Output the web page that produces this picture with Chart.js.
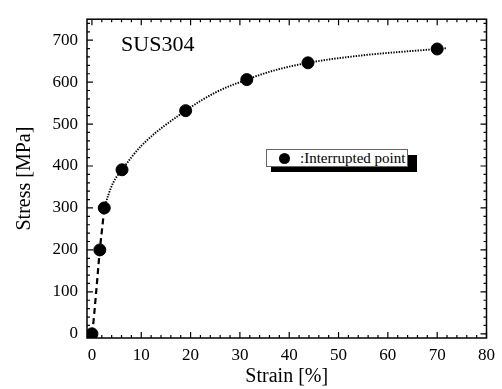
<!DOCTYPE html>
<html lang="en">
<head>
    <meta charset="UTF-8">
    <title>SUS304 Stress-Strain</title>
    <style>
        body {
            margin: 0;
            background: #fff;
            font-family: "Liberation Serif", serif;
        }
        .wrap {
            position: relative;
            width: 502px;
            height: 389px;
        }
        .legend-shadow {
            position: absolute;
            left: 271px;
            top: 155px;
            width: 146px;
            height: 17px;
            background: #000;
        }
        .legend-box {
            position: absolute;
            left: 266px;
            top: 149px;
            width: 140px;
            height: 16px;
            border: 1px solid #666;
            background: #fff;
            font-size: 15px;
            line-height: 16px;
            white-space: nowrap;
        }
        .legend-box .dot {
            position: absolute;
            left: 12px;
            top: 3px;
            width: 11px;
            height: 11px;
            border-radius: 50%;
            background: #000;
        }
        .legend-box span {
            position: absolute;
            left: 33px;
            top: 0;
        }
    </style>
    <script src="https://cdn.jsdelivr.net/npm/chart.js"></script>
</head>
<body>
    <div class="wrap">
        <canvas id="chart" width="502" height="389"></canvas>
        <div class="legend-shadow"></div>
        <div class="legend-box"><div class="dot"></div><span>:Interrupted point</span></div>
    </div>
    <script>
        // interrupted test points (strain %, stress MPa)
        const pointStrain = [0, 1.6, 2.5, 6.1, 19.0, 31.4, 43.8, 70.0];
        const pointStress = [0, 200, 300, 391, 532, 606, 646, 679];

        // fitted curve: dashed part, then dotted part
        const dashStrain = [0, 0.3, 0.9, 1.6, 2.2, 2.5];
        const dashStress = [0, 28, 105, 200, 265, 300];
        const dotStrain = [2.5, 3.3, 4.3, 6.1, 10, 19.0, 25, 31.4, 37, 43.8, 55, 70.0, 72];
        const dotStress = [300, 330, 360, 391, 448, 532, 575, 606, 628, 646, 664, 679, 681];

        const xTicks = [0, 10, 20, 30, 40, 50, 60, 70, 80];
        const yTicks = [0, 100, 200, 300, 400, 500, 600, 700];

        const toXY = (xs, ys) => xs.map((x, i) => ({ x: x, y: ys[i] }));

        // frame with inward ticks on all four sides
        const framePlugin = {
            id: 'frame',
            afterDraw(chart) {
                const ctx = chart.ctx;
                const a = chart.chartArea;
                const sx = chart.scales.x, sy = chart.scales.y;
                ctx.save();
                ctx.strokeStyle = '#000';
                ctx.lineWidth = 1.5;
                ctx.strokeRect(a.left, a.top, a.right - a.left, a.bottom - a.top);
                ctx.lineWidth = 1.2;
                ctx.beginPath();
                for (let v = 0; v <= 80; v += 2) {
                    const px = sx.getPixelForValue(v);
                    const len = v % 10 === 0 ? 6 : 3;
                    ctx.moveTo(px, a.bottom); ctx.lineTo(px, a.bottom - len);
                    ctx.moveTo(px, a.top); ctx.lineTo(px, a.top + len);
                }
                for (let v = 0; v <= 740; v += 20) {
                    const py = sy.getPixelForValue(v);
                    const len = v % 100 === 0 ? 6 : 3;
                    ctx.moveTo(a.left, py); ctx.lineTo(a.left + len, py);
                    ctx.moveTo(a.right, py); ctx.lineTo(a.right - len, py);
                }
                ctx.stroke();
                // sample label
                ctx.fillStyle = '#000';
                ctx.font = '22px "Liberation Serif"';
                ctx.textBaseline = 'alphabetic';
                ctx.fillText('SUS304', sx.getPixelForValue(5.9), sy.getPixelForValue(674));
                ctx.restore();
            }
        };

        const tickFont = { family: 'Liberation Serif', size: 17 };

        new Chart(document.getElementById('chart'), {
            type: 'scatter',
            data: {
                datasets: [
                    {
                        label: 'fit (dashed)',
                        data: toXY(dashStrain, dashStress),
                        showLine: true,
                        borderColor: '#000',
                        borderWidth: 2.2,
                        borderDash: [6, 4],
                        pointRadius: 0,
                        cubicInterpolationMode: 'monotone'
                    },
                    {
                        label: 'fit (dotted)',
                        data: toXY(dotStrain, dotStress),
                        showLine: true,
                        borderColor: '#000',
                        borderWidth: 1.9,
                        borderDash: [1.4, 1.3],
                        pointRadius: 0,
                        cubicInterpolationMode: 'monotone'
                    },
                    {
                        label: ':Interrupted point',
                        data: toXY(pointStrain, pointStress),
                        showLine: false,
                        backgroundColor: '#000',
                        borderColor: '#000',
                        pointRadius: 6,
                        pointHoverRadius: 6
                    }
                ]
            },
            options: {
                responsive: false,
                animation: false,
                layout: { padding: { top: 14, right: 12, left: 0, bottom: 0 } },
                plugins: {
                    legend: { display: false },
                    tooltip: { enabled: false }
                },
                scales: {
                    x: {
                        type: 'linear',
                        min: -1,
                        max: 80,
                        afterBuildTicks: s => { s.ticks = xTicks.map(v => ({ value: v })); },
                        afterFit: s => { s.height = 51; },
                        grid: { display: false, drawTicks: false },
                        border: { display: false },
                        ticks: { color: '#000', font: tickFont, padding: 7, maxRotation: 0 },
                        title: {
                            display: true,
                            text: 'Strain [%]',
                            color: '#000',
                            font: { family: 'Liberation Serif', size: 20 },
                            padding: { top: 0, bottom: 0 }
                        }
                    },
                    y: {
                        type: 'linear',
                        min: -10,
                        max: 750,
                        afterBuildTicks: s => { s.ticks = yTicks.map(v => ({ value: v })); },
                        afterFit: s => { s.width = 87; },
                        grid: { display: false, drawTicks: false },
                        border: { display: false },
                        ticks: { color: '#000', font: tickFont, padding: 9 },
                        title: {
                            display: true,
                            text: 'Stress [MPa]',
                            color: '#000',
                            font: { family: 'Liberation Serif', size: 20 },
                            padding: { top: 13, bottom: 0 }
                        }
                    }
                }
            },
            plugins: [framePlugin]
        });
    </script>
</body>
</html>
